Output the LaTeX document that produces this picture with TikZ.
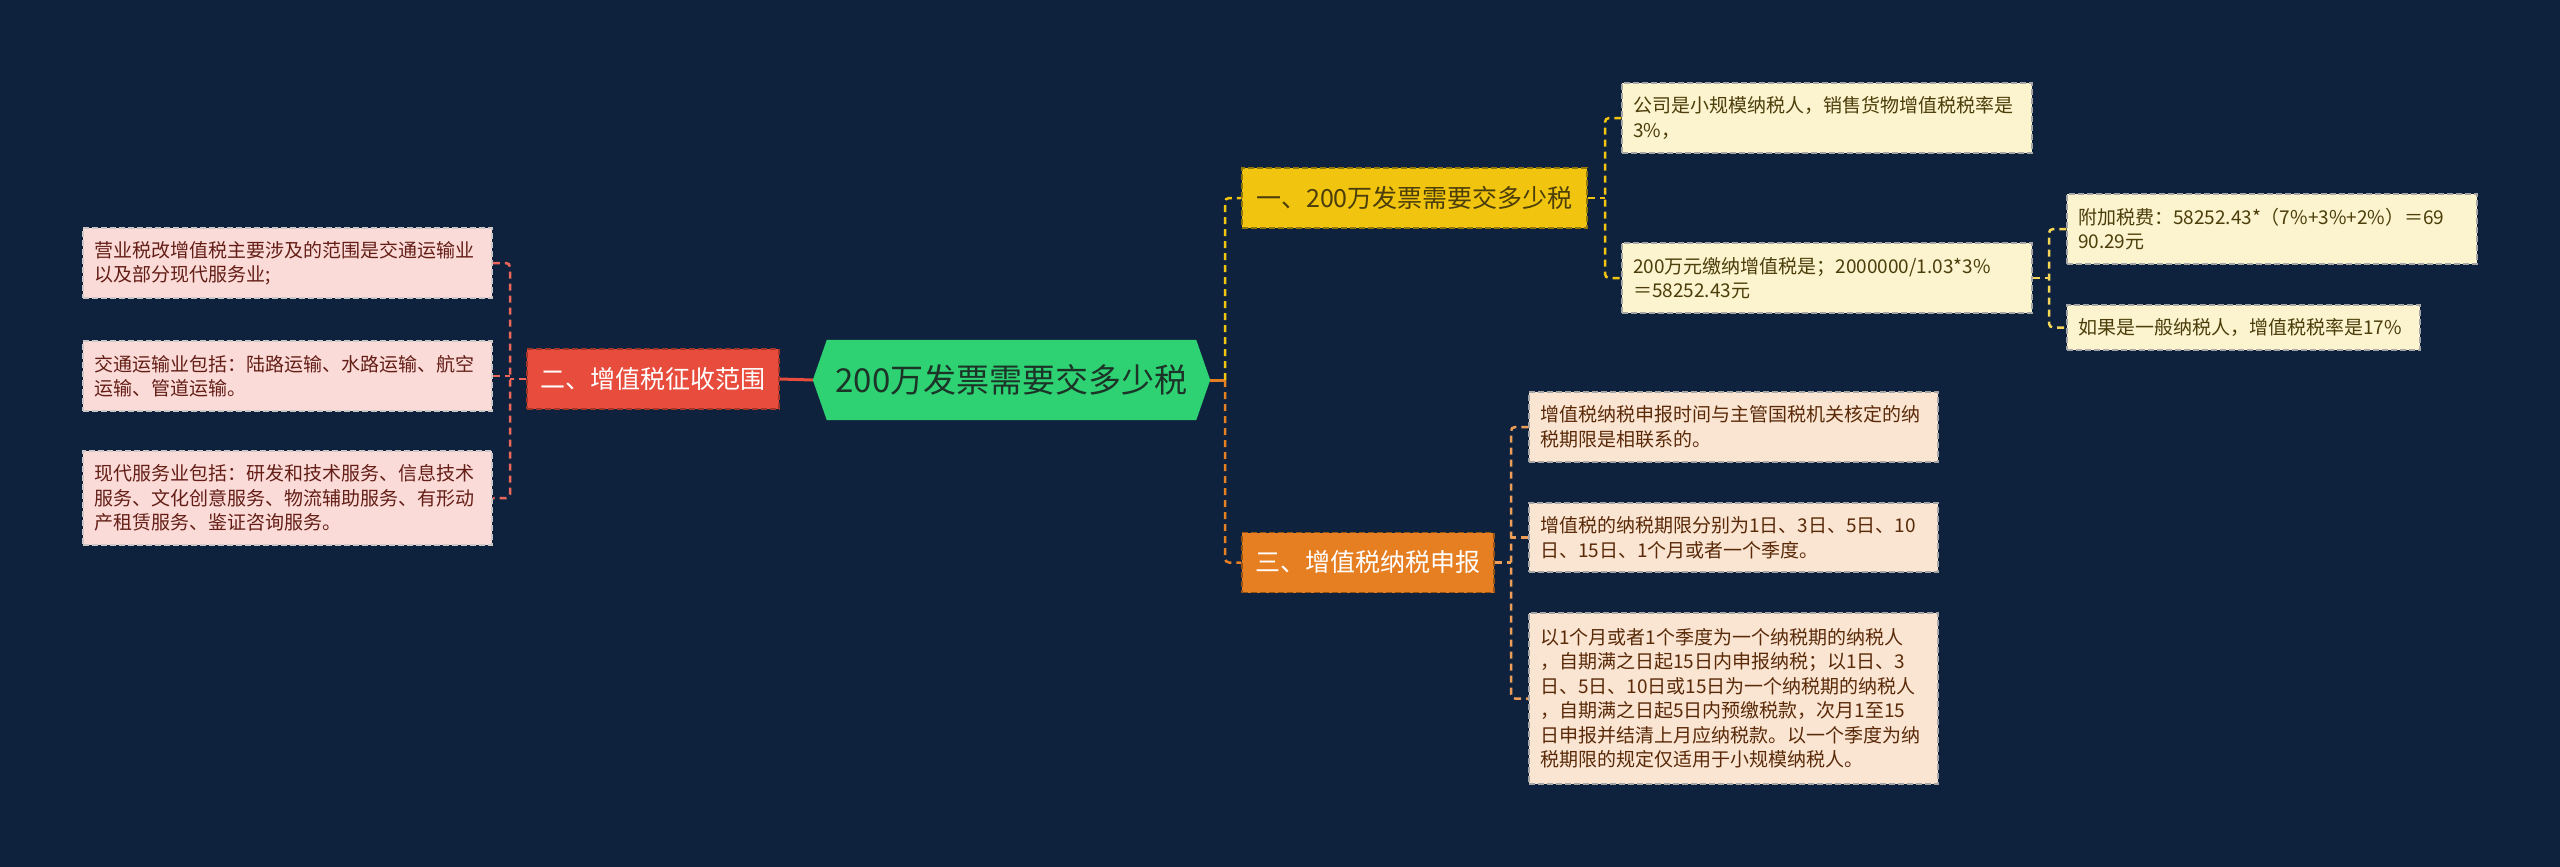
\documentclass[tikz,border=0pt]{standalone}
\usepackage{fontspec}
\setmainfont{Noto Sans CJK SC}
\usetikzlibrary{calc}
\definecolor{bgc}{RGB}{14,34,62}
\definecolor{rootc}{RGB}{46,210,115}
\definecolor{redc}{RGB}{231,76,60}
\definecolor{yelc}{RGB}{241,196,15}
\definecolor{orac}{RGB}{230,126,34}
\definecolor{pinkleaf}{RGB}{250,219,216}
\definecolor{creamleaf}{RGB}{252,243,207}
\definecolor{oraleaf}{RGB}{250,229,211}
\definecolor{redtxt}{RGB}{100,30,22}
\definecolor{yeltxt}{RGB}{75,62,10}
\definecolor{oratxt}{RGB}{90,42,8}
\definecolor{roottxt}{RGB}{28,52,40}
\pgfdeclarelayer{bglayer}
\pgfdeclarelayer{shapelayer}
\pgfsetlayers{bglayer,shapelayer,main}
\tikzset{
  dashy/.style={dash pattern=on 7pt off 5pt},
  lvlone/.style={draw, line width=1.5pt, dash pattern=on 6pt off 3pt, minimum height=60pt, inner sep=0pt, font=\fontsize{25}{30}\selectfont},
  leafbox/.style={draw=#1, line width=1.5pt, dash pattern=on 6pt off 3pt, inner xsep=11pt, inner ysep=0pt, align=left, font=\fontsize{19}{24.5}\selectfont},
  redleaf/.style={leafbox=white!75!pinkleaf!60!gray, fill=pinkleaf, text=redtxt},
  yelleaf/.style={leafbox=gray!70, fill=creamleaf, text=yeltxt},
  oraleafs/.style={leafbox=gray!70, fill=oraleaf, text=oratxt},
  rconn/.style={draw=redc!85!white, line width=2.5pt, dashy},
  yconn/.style={draw=yelc, line width=2.5pt, dashy},
  yconnb/.style={draw=yelc!70!white, line width=2.5pt, dashy},
  oconn/.style={draw=orac, line width=2.5pt, dashy},
  oconnb/.style={draw=orac!75!white, line width=2.5pt, dashy},
}
\begin{document}
\begin{tikzpicture}[x=1pt,y=-1pt]
\begin{pgfonlayer}{bglayer}
\fill[bgc] (0,0) rectangle (2560,867);
\end{pgfonlayer}
\useasboundingbox (0,0) rectangle (2560,867);

% root
\node[minimum width=397pt, minimum height=80pt, inner sep=0pt, text=roottxt, font=\fontsize{33}{38}\selectfont] (root) at (1011.5,380) {200万发票需要交多少税};
\begin{pgfonlayer}{shapelayer}
\fill[rootc] (root.west) -- ($(root.north west)+(14,0)$) -- ($(root.north east)+(-14,0)$) -- (root.east) -- ($(root.south east)+(-14,0)$) -- ($(root.south west)+(14,0)$) -- cycle;
\end{pgfonlayer}

% level one
\node[lvlone, fill=redc, draw=redc!70!black, text=white, minimum width=252pt] (red) at (653,379) {二、增值税征收范围};
\node[lvlone, fill=yelc, draw=yelc!60!black, text=yeltxt, minimum width=345pt] (yel) at (1414.5,198) {一、200万发票需要交多少税};
\node[lvlone, fill=orac, draw=orac!65!black, text=white, minimum width=252pt] (ora) at (1368,562.5) {三、增值税纳税申报};

% left leaves
\node[redleaf, text width=387pt, minimum height=70pt] (L1) at (287.5,263) {营业税改增值税主要涉及的范围是交通运输业\\以及部分现代服务业;};
\node[redleaf, text width=387pt, minimum height=70pt] (L2) at (287.5,376) {交通运输业包括：陆路运输、水路运输、航空\\运输、管道运输。};
\node[redleaf, text width=387pt, minimum height=94pt] (L3) at (287.5,498) {现代服务业包括：研发和技术服务、信息技术\\服务、文化创意服务、物流辅助服务、有形动\\产租赁服务、鉴证咨询服务。};

% yellow leaves
\node[yelleaf, text width=388pt, minimum height=70pt] (Y1) at (1827,118) {公司是小规模纳税人，销售货物增值税税率是\\3\%，};
\node[yelleaf, text width=388pt, minimum height=70pt] (Y2) at (1827,278) {200万元缴纳增值税是；2000000/1.03*3\%\\＝58252.43元};
\node[yelleaf, text width=388pt, minimum height=70pt] (Y3) at (2272,229) {附加税费：58252.43*（7\%+3\%+2\%）＝69\\90.29元};
\node[yelleaf, text width=331pt, minimum height=45pt] (Y4) at (2243.5,327.5) {如果是一般纳税人，增值税税率是17\%};

% orange leaves
\node[oraleafs, text width=387pt, minimum height=70pt] (O1) at (1733.5,427) {增值税纳税申报时间与主管国税机关核定的纳\\税期限是相联系的。};
\node[oraleafs, text width=387pt, minimum height=69pt] (O2) at (1733.5,537.5) {增值税的纳税期限分别为1日、3日、5日、10\\日、15日、1个月或者一个季度。};
\node[oraleafs, text width=387pt, minimum height=171pt] (O3) at (1733.5,698.5) {以1个月或者1个季度为一个纳税期的纳税人\\，自期满之日起15日内申报纳税；以1日、3\\日、5日、10日或15日为一个纳税期的纳税人\\，自期满之日起5日内预缴税款，次月1至15\\日申报并结清上月应纳税款。以一个季度为纳\\税期限的规定仅适用于小规模纳税人。};

% connectors: left
\coordinate (lb) at (510,379);
\draw[redc, line width=3pt] (root.west) -- (red.east);
\draw[rconn] (red.west) -- (lb);
\draw[rconn, rounded corners=4pt] (L1.east) -| (lb) |- (L3.east);
\draw[rconn] (L2.east) -- (L2.east -| lb);

% connectors: right main
\coordinate (rb) at (1225,380);
\draw[orac, line width=3pt] (root.east) -- (rb);
\draw[yconn, rounded corners=4pt] (rb) |- (yel.west);
\draw[oconn, rounded corners=4pt] (rb) |- (ora.west);

% yellow bracket
\coordinate (yb) at (1605,198);
\draw[yconn] (yel.east) -- (yb);
\draw[yconn, rounded corners=4pt] (Y1.west) -| (yb) |- (Y2.west);

% second yellow bracket
\coordinate (y2b) at (2049,278);
\draw[yconnb] (Y2.east) -- (y2b);
\draw[yconnb, rounded corners=4pt] (Y3.west) -| (y2b) |- (Y4.west);

% orange bracket
\coordinate (ob) at (1511,562.5);
\draw[oconnb] (ora.east) -- (ob);
\draw[oconnb, rounded corners=4pt] (O1.west) -| (ob) |- (O3.west);
\draw[oconnb] (O2.west) -- (O2.west -| ob);
\end{tikzpicture}
\end{document}
